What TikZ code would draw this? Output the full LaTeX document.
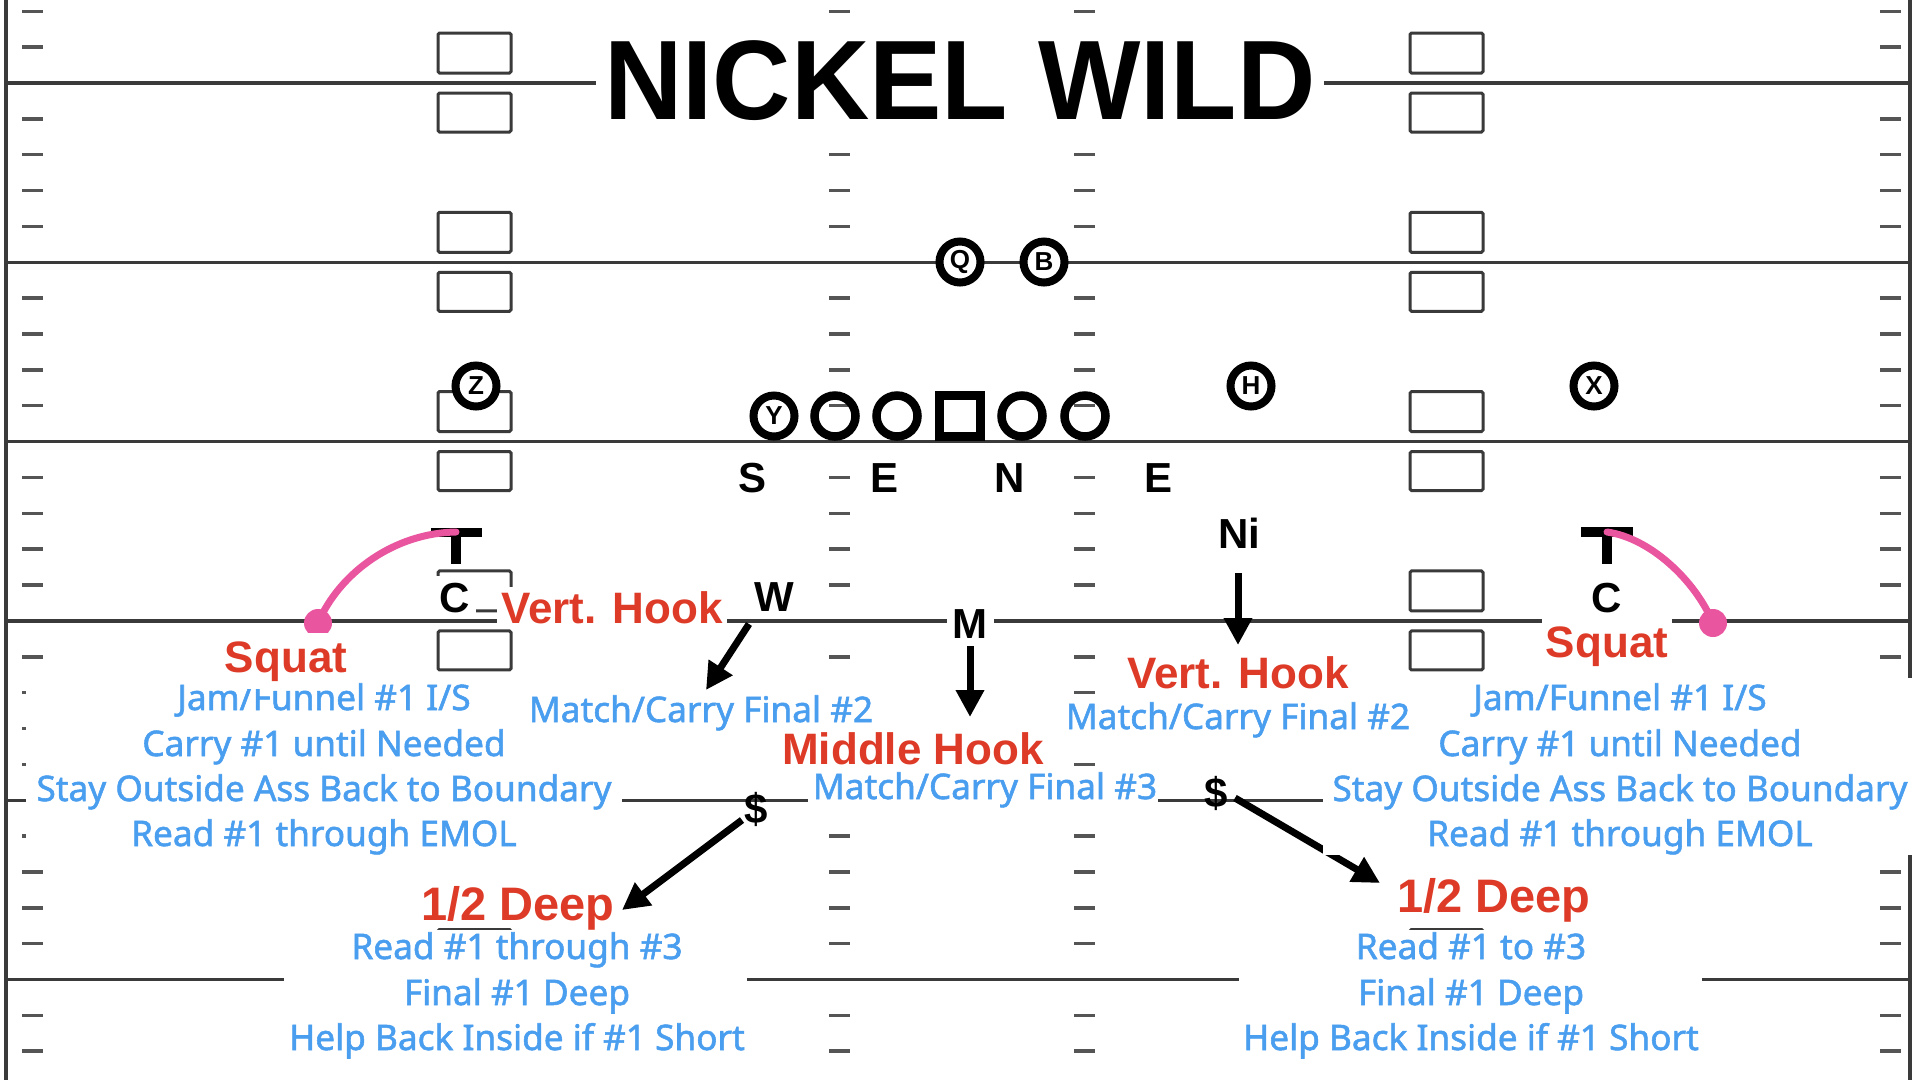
\documentclass[tikz,border=0pt]{standalone}
\usepackage{fontspec}
\setmainfont{Liberation Sans}
\newfontfamily\bluefont[FakeBold=1.6]{Noto Sans}
\usepackage{graphicx}
\usetikzlibrary{arrows.meta}
\definecolor{redtxt}{HTML}{DD3A27}
\definecolor{bluetxt}{HTML}{4A9EEF}
\definecolor{pinkc}{HTML}{E9559F}
\definecolor{fieldline}{HTML}{3A3A3A}
\definecolor{hashc}{HTML}{555555}
\newcommand\pxs[1]{\fontsize{#1pt}{#1pt}\selectfont}
\begin{document}
\begin{tikzpicture}[x=1pt,y=-1pt,
  yard/.style={draw=fieldline, line width=3.2pt},
  hashm/.style={draw=hashc, line width=3.5pt},
  numbox/.style={draw=fieldline, line width=3pt, rounded corners=1.5pt},
  bluetext/.style={text=bluetxt, font=\bluefont\pxs{35.2}, anchor=base, inner sep=0pt},
  redtext/.style={text=redtxt, font=\bfseries\pxs{44}, anchor=base, fill=white, inner sep=4pt},
  deflabel/.style={font=\bfseries\pxs{42}, anchor=base, fill=white, inner sep=4pt},
  player/.style={circle, draw=black, line width=8pt, fill=white, minimum size=41pt, inner sep=0pt, font=\bfseries\pxs{26}},
  lineman/.style={circle, draw=black, line width=8.5pt, minimum size=41pt, inner sep=0pt},
  snapbox/.style={rectangle, draw=black, line width=9pt, minimum size=41pt, inner sep=0pt},
  pinkdot/.style={circle, fill=pinkc, minimum size=28pt, inner sep=0pt},
  arr/.style={draw=black, line width=7pt, -{Triangle[length=27pt,width=27pt]}},
  route/.style={draw=pinkc, line width=7pt, line cap=round}
]
\useasboundingbox (0,0) rectangle (1920,1080);
\fill[white] (0,0) rectangle (1920,1080);

% hash marks
\foreach \i in {-1,...,5}{
  \foreach \j in {1,2,3,4}{
    \foreach \c in {22,829,1074,1880}{
      \draw[hashm] (\c,{83+179.3*\i+35.86*\j}) -- ++(21,0);
    }
  }
}
% yard lines and number boxes
\foreach \L in {83,262.3,441.6,620.9,800.2,979.5}{
  \draw[yard] (6,\L) -- (1910,\L);
  \foreach \bx in {438,1410}{
    \draw[numbox] (\bx,{\L-50}) rectangle ++(73,40);
    \draw[numbox] (\bx,{\L+10}) rectangle ++(73,39);
  }
}
% sidelines
\draw[yard] (6,0) -- (6,1080);
\draw[yard] (1910,0) -- (1910,1080);

% corners (T) and pink routes
\fill (431,528) rectangle (482,537);
\fill (451,528) rectangle (461,564);
\fill (1581,527) rectangle (1633,537);
\fill (1602,527) rectangle (1612,564);
\coordinate (tL) at (456,532);
\coordinate (tR) at (1607,532);
\node[pinkdot] (dotL) at (318,623) {};
\node[pinkdot] (dotR) at (1713,623) {};
\draw[route] (tL) .. controls (395,533) and (340,572) .. (dotL.center);
\draw[route] (tR) .. controls (1650,538) and (1695,580) .. (dotR.center);

% arrows
\coordinate (wS) at (749,624);   \coordinate (wE) at (706,690);
\coordinate (mS) at (970,646);   \coordinate (mE) at (970,717);
\coordinate (niS) at (1238,573); \coordinate (niE) at (1238,645);
\coordinate (d1S) at (742,820);  \coordinate (d1E) at (622,910);
\coordinate (d2S) at (1235,798); \coordinate (d2E) at (1380,883);
\draw[arr] (wS) -- (wE);
\draw[arr] (mS) -- (mE);
\draw[arr] (niS) -- (niE);
\draw[arr] (d1S) -- (d1E);
\draw[arr] (d2S) -- (d2E);

% white backgrounds of text blocks
\fill[white] (26,678) rectangle (622,855);
\fill[white] (1323,678) rectangle (1916,855);
\fill[white] (808,768) rectangle (1158,812);
\fill[white] (284,930) rectangle (747,1068);
\fill[white] (1239,930) rectangle (1702,1068);

% title
\node[fill=white, inner xsep=8pt, inner ysep=14pt, anchor=base, font=\bfseries\pxs{113}] (title) at (960,119) {\scalebox{0.96}[1]{NICKEL WILD}};

% blue texts
\node[bluetext] (lb1) at (324,710) {Jam/Funnel \#1 I/S};
\node[bluetext] (lb2) at (324,756) {Carry \#1 until Needed};
\node[bluetext] (lb3) at (324,801) {Stay Outside Ass Back to Boundary};
\node[bluetext] (lb4) at (324,846) {Read \#1 through EMOL};
\node[bluetext] (rb1) at (1620,710) {Jam/Funnel \#1 I/S};
\node[bluetext] (rb2) at (1620,756) {Carry \#1 until Needed};
\node[bluetext] (rb3) at (1620,801) {Stay Outside Ass Back to Boundary};
\node[bluetext] (rb4) at (1620,846) {Read \#1 through EMOL};
\node[bluetext, fill=white, inner sep=4pt] (mc2l) at (701,722) {Match/Carry Final \#2};
\node[bluetext, fill=white, inner sep=4pt] (mc2r) at (1238,729) {Match/Carry Final \#2};
\node[bluetext] (mc3) at (985,799) {Match/Carry Final \#3};
\node[bluetext] (bl1) at (517,959) {Read \#1 through \#3};
\node[bluetext] (bl2) at (517,1005) {Final \#1 Deep};
\node[bluetext] (bl3) at (517,1050) {Help Back Inside if \#1 Short};
\node[bluetext] (br1) at (1471,959) {Read \#1 to \#3};
\node[bluetext] (br2) at (1471,1005) {Final \#1 Deep};
\node[bluetext] (br3) at (1471,1050) {Help Back Inside if \#1 Short};

% red texts
\node[redtext, inner ysep=8pt] (sqL) at (286,672) {Squat};
\node[redtext, inner ysep=10pt] (sqR) at (1607,657) {Squat};
\node[redtext] (vhL) at (612,623) {Vert. Hook};
\node[redtext] (vhR) at (1238,688) {Vert. Hook};
\node[redtext] (mh) at (913,764) {Middle Hook};
\node[redtext, fill=none, font=\bfseries\pxs{47}] (hdL) at (518,920) {1/2 Deep};
\node[redtext, fill=none, font=\bfseries\pxs{47}] (hdR) at (1494,912) {1/2 Deep};

% defenders
\node[deflabel] (dS) at (752,492) {S};
\node[deflabel] (dE1) at (884,492) {E};
\node[deflabel] (dN) at (1010,492) {N};
\node[deflabel] (dE2) at (1158,492) {E};
\node[deflabel] (dNi) at (1239,548) {Ni};
\node[deflabel] (dW) at (774,611) {W};
\node[deflabel, inner sep=6pt] (dM) at (970,638) {M};
\node[deflabel, inner xsep=6pt, inner ysep=7pt] (dCL) at (455,612) {C};
\node[deflabel, inner xsep=6pt, inner ysep=7pt] (dCR) at (1607,612) {C};
\node[deflabel, fill=none] (dSL) at (756,823) {\$};
\node[deflabel, fill=none] (dSR) at (1216,807) {\$};

% offense
\node[player] (oQ) at (960,262) {Q};
\node[player] (oB) at (1044,262) {B};
\node[player] (oZ) at (476,386) {Z};
\node[player] (oH) at (1251,386) {H};
\node[player] (oX) at (1594,386) {X};
\node[player] (oY) at (774,416) {Y};
\node[lineman] (g1) at (835,416) {};
\node[lineman] (g2) at (897,416) {};
\node[snapbox] (cc) at (960,416) {};
\node[lineman] (g3) at (1022,416) {};
\node[lineman] (g4) at (1085,416) {};
\end{tikzpicture}
\end{document}
